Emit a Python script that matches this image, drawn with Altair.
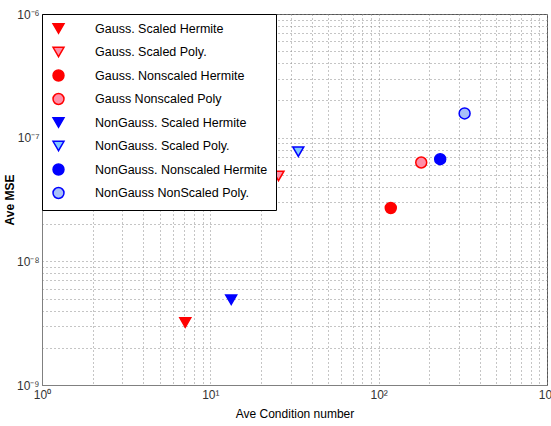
import altair as alt
import pandas as pd

series = [
    "Gauss. Scaled Hermite",
    "Gauss. Scaled Poly.",
    "Gauss. Nonscaled Hermite",
    "Gauss Nonscaled Poly",
    "NonGauss. Scaled Hermite",
    "NonGauss. Scaled Poly.",
    "NonGauss. Nonscaled Hermite",
    "NonGauss NonScaled Poly.",
]
cond_number = [7.1, 25.4, 118, 179, 13.3, 33.3, 232, 324]
ave_mse = [3.2e-9, 4.9e-8, 2.7e-8, 6.3e-8, 4.9e-9, 7.7e-8, 6.7e-8, 1.57e-7]

shapes = ["triangle-down", "triangle-down", "circle", "circle",
          "triangle-down", "triangle-down", "circle", "circle"]
fills = ["#ff0000", "#ff8fa8", "#ff0000", "#ff8fa8",
         "#0000ff", "#80c8ff", "#0000ff", "#a8c0f8"]
strokes = ["#ff0000", "#ff0000", "#ff0000", "#ff0000",
           "#0000ff", "#0000ff", "#0000ff", "#0000ff"]
sizes = [120, 120, 90, 90, 120, 120, 90, 90]

x_ticks = [m * 10 ** e for e in range(0, 3) for m in range(1, 10)] + [1000]
y_ticks = [m * 10.0 ** e for e in range(-9, -6) for m in range(1, 10)] + [1e-6]

df = pd.DataFrame({"series": series, "cond": cond_number, "mse": ave_mse})

font = "Liberation Sans"

x_label = ("abs(log(datum.value)/LN10 - round(log(datum.value)/LN10)) < 0.001 ? "
           "'10' + ['⁰','¹','²','³'][round(log(datum.value)/LN10)] : ''")
y_label = ("abs(log(datum.value)/LN10 - round(log(datum.value)/LN10)) < 0.001 ? "
           "'10' + ['⁻⁹','⁻⁸','⁻⁷','⁻⁶'][round(log(datum.value)/LN10) + 9] : ''")

legend = alt.Legend(
    title=None, orient="none", legendX=0, legendY=0,
    fillColor="white", strokeColor="#000000", padding=8,
    labelFont=font, labelFontSize=12.5, labelColor="#000000",
    labelOffset=30, rowPadding=6.5, symbolStrokeWidth=1.5,
    labelLimit=400, symbolOffset=2,
)

chart = alt.Chart(df).mark_point(filled=True, strokeWidth=1.5, opacity=1).encode(
    x=alt.X("cond:Q", scale=alt.Scale(type="log", domain=[1, 1000], nice=False),
            axis=alt.Axis(values=x_ticks, labelExpr=x_label, title="Ave Condition number",
                          grid=True, gridDash=[1, 3], gridColor="#8a8a8a", gridOpacity=1,
                          ticks=False, domainColor="#808080", labelFont=font, labelFontSize=12,
                          labelColor="#333333", labelFlush=False, labelPadding=4,
                          titleFont=font, titleFontSize=12, titleFontWeight="normal",
                          titleColor="#000000", titlePadding=8, labelOverlap=False)),
    y=alt.Y("mse:Q", scale=alt.Scale(type="log", domain=[1e-9, 1e-6], nice=False),
            axis=alt.Axis(values=y_ticks, labelExpr=y_label, title="Ave MSE",
                          grid=True, gridDash=[1, 3], gridColor="#8a8a8a", gridOpacity=1,
                          ticks=False, domainColor="#808080", labelFont=font, labelFontSize=12,
                          labelColor="#333333", labelFlush=False, labelPadding=3,
                          titleFont=font, titleFontSize=12, titleFontWeight="bold",
                          titleColor="#000000", titlePadding=0, labelOverlap=False)),
    shape=alt.Shape("series:N", scale=alt.Scale(domain=series, range=shapes), legend=legend),
    fill=alt.Fill("series:N", scale=alt.Scale(domain=series, range=fills), legend=legend),
    stroke=alt.Stroke("series:N", scale=alt.Scale(domain=series, range=strokes), legend=legend),
    size=alt.Size("series:N", scale=alt.Scale(domain=series, range=sizes), legend=legend),
).properties(
    width=505, height=371,
    autosize=alt.AutoSizeParams(type="none"),
    padding={"left": 42, "top": 14, "right": 4, "bottom": 41},
    background="white",
).configure_view(stroke="#555555", strokeWidth=1)

chart.save("out.html", embed_options={"renderer": "svg", "actions": False})
